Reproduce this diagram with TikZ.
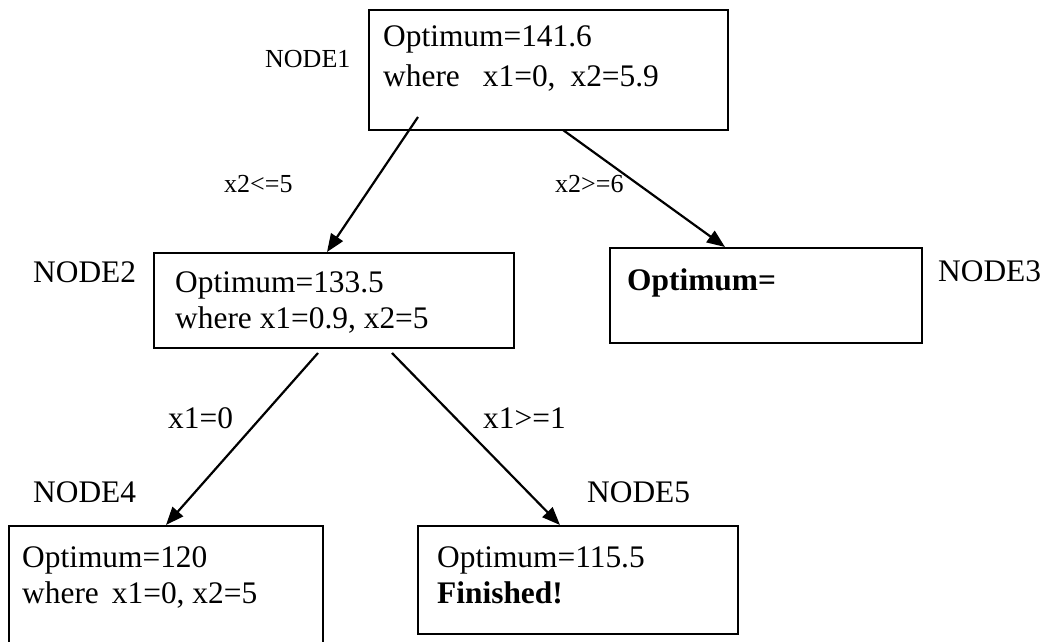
\documentclass[tikz,border=0pt]{standalone}
\usepackage{fontspec}
\setmainfont{Liberation Serif}
\usetikzlibrary{arrows.meta,calc}
\tikzset{
  box/.style={draw, line width=2.4pt, rectangle, inner sep=0pt, anchor=north west},
  txt/.style={anchor=base west, inner sep=0pt, font=\fontsize{31.4}{36}\selectfont},
  biglbl/.style={anchor=base west, inner sep=0pt, font=\fontsize{31.4}{36}\selectfont},
  smalllbl/.style={anchor=base west, inner sep=0pt, font=\fontsize{26}{30}\selectfont},
  arr/.style={line width=2.2pt, -{Triangle[length=18pt,width=14pt]}}
}
\newcommand{\twolines}[3][0pt]{\begin{tabular}[t]{@{}l@{}}#2\\[#1]#3\end{tabular}}
\begin{document}
\begin{tikzpicture}[x=1pt,y=-1pt]
\useasboundingbox (0,0) rectangle (1045,642);
\clip (0,0) rectangle (1045,642);
% boxes
\node[box, minimum width=359pt, minimum height=120pt] (n1) at (368,9) {};
\node[box, minimum width=360pt, minimum height=95pt] (n2) at (153,252) {};
\node[box, minimum width=312pt, minimum height=95pt] (n3) at (609,247) {};
\node[box, minimum width=314pt, minimum height=125pt] (n4) at (8,525) {};
\node[box, minimum width=320pt, minimum height=108pt] (n5) at (417,525) {};
% box texts
\node[txt] (t1) at (383,47) {\twolines[4pt]{Optimum=141.6}{where\hspace{23pt}x1=0,\hspace{15pt}x2=5.9}};
\node[txt] (t2) at (175,292) {\twolines{Optimum=133.5}{where x1=0.9, x2=5}};
\node[txt] (t3) at (627,290) {\textbf{Optimum=}};
\node[txt] (t4) at (22,567) {\twolines{Optimum=120}{where\hspace{13pt}x1=0, x2=5}};
\node[txt] (t5) at (437,567) {\twolines{Optimum=115.5}{\textbf{Finished!}}};
% node labels
\node[smalllbl] (l1) at (265,68) {NODE1};
\node[biglbl] (l2) at (33,282) {NODE2};
\node[biglbl] (l3) at (938,281) {NODE3};
\node[biglbl] (l4) at (33,502) {NODE4};
\node[biglbl] (l5) at (587,502) {NODE5};
% edge labels
\node[smalllbl] (e1) at (224,192) {x2<=5};
\node[smalllbl] (e2) at (555,192) {x2>=6};
\node[biglbl] (e3) at (168,428) {x1=0};
\node[biglbl] (e4) at (483,428) {x1>=1};
% connector start points
\coordinate (s1) at ($(n1.north west)+(50,108)$);
\coordinate (s2) at ($(n1.north west)+(195,121)$);
\coordinate (s3) at ($(n2.north west)+(165,101)$);
\coordinate (s4) at ($(n2.north west)+(239,101)$);
% connectors
\draw[arr] (s1) -- ($(n2.north west)+(174,0)$);
\draw[arr] (s2) -- ($(n3.north west)+(116,0)$);
\draw[arr] (s3) -- ($(n4.north west)+(158,0)$);
\draw[arr] (s4) -- ($(n5.north west)+(143,0)$);
\end{tikzpicture}
\end{document}
